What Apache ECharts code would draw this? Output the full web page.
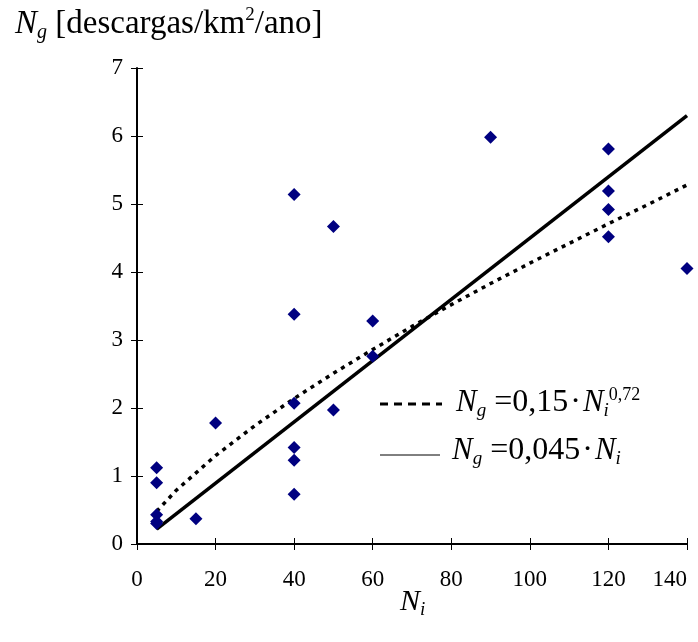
<!DOCTYPE html>
<html>
<head>
<meta charset="utf-8">
<script src="https://cdn.jsdelivr.net/npm/echarts@6/dist/echarts.min.js"></script>
<style>
  html, body { margin: 0; padding: 0; background: #fff; }
  #chart { width: 698px; height: 642px; }
</style>
</head>
<body>
<div id="chart"></div>
<script>
// observed points (Ni, Ng)
const obsNi = [5, 5, 5, 5, 5, 15, 20, 40, 40, 40, 40, 40, 40, 50, 50, 60, 60, 90, 120, 120, 120, 120, 140];
const obsNg = [1.12, 0.9, 0.43, 0.33, 0.3, 0.37, 1.78, 5.14, 3.38, 2.07, 1.42, 1.23, 0.73, 4.67, 1.97, 3.28, 2.76, 5.98, 5.81, 5.19, 4.92, 4.52, 4.05];

// power trend line
const powNi = [5, 10, 20, 30, 40, 50, 60, 70, 80, 90, 100, 110, 120, 130, 140];
const powNg = [0.48, 0.79, 1.3, 1.74, 2.14, 2.51, 2.86, 3.2, 3.52, 3.83, 4.13, 4.42, 4.71, 4.99, 5.28];

// linear trend line, end points
const linNi = [5, 140];
const linNg = [0.22, 6.3];

const xTicks = [0, 20, 40, 60, 80, 100, 120, 140];
const yTicks = [0, 1, 2, 3, 4, 5, 6, 7];

const serif = "'Liberation Serif', 'DejaVu Serif', serif";

const zip = (a, b) => a.map((v, i) => [v, b[i]]);

const chart = echarts.init(document.getElementById("chart"));

const baseAxis = {
  type: "value",
  splitLine: {show: false},
  axisLine: {lineStyle: {color: "#000", width: 2}},
  axisLabel: {color: "#000", fontFamily: serif, fontSize: 23},
};

const mainText = {fontFamily: serif, fontSize: 32, color: "#000", lineHeight: 34};
const dot = {fontFamily: serif, fontSize: 32, color: "#000", lineHeight: 34, padding: [0, 2, 0, 2]};
const italic = {fontFamily: serif, fontSize: 31, fontStyle: "italic", color: "#000", lineHeight: 34};
const sub = {fontFamily: serif, fontSize: 19, fontStyle: "italic", color: "#000", lineHeight: 14, verticalAlign: "bottom", padding: [0, 8, 0, 0]};
const subEnd = {...sub, padding: 0};
const sup = {fontFamily: serif, fontSize: 18, color: "#000", lineHeight: 12, verticalAlign: "top"};

const option = {
  animation: false,
  grid: {left: 137, right: 11, top: 68, bottom: 98, containLabel: false, outerBoundsMode: "none"},
  xAxis: [
    {
      ...baseAxis,
      min: xTicks[0], max: xTicks[xTicks.length - 1], interval: 20,
      axisTick: {show: true, inside: false, length: 6, lineStyle: {color: "#000", width: 1}},
      axisLabel: {...baseAxis.axisLabel, margin: 24, alignMaxLabel: "right"},
    },
    {
      type: "value", position: "bottom",
      min: xTicks[0], max: xTicks[xTicks.length - 1], interval: 20,
      axisLine: {show: false}, splitLine: {show: false}, axisLabel: {show: false},
      axisTick: {show: true, inside: true, length: 6, lineStyle: {color: "#000", width: 1}},
    }
  ],
  yAxis: [
    {
      ...baseAxis,
      min: yTicks[0], max: yTicks[yTicks.length - 1], interval: 1,
      axisTick: {show: true, inside: false, length: 6, lineStyle: {color: "#000", width: 1}},
      axisLabel: {...baseAxis.axisLabel, margin: 14},
    },
    {
      type: "value", position: "left",
      min: yTicks[0], max: yTicks[yTicks.length - 1], interval: 1,
      axisLine: {show: false}, splitLine: {show: false}, axisLabel: {show: false},
      axisTick: {show: true, inside: true, length: 6, lineStyle: {color: "#000", width: 1}},
    }
  ],
  series: [
    {
      type: "line",
      data: zip(linNi, linNg),
      showSymbol: false,
      lineStyle: {color: "#000", width: 3.5, type: "solid"},
      z: 2
    },
    {
      type: "line",
      data: zip(powNi, powNg),
      showSymbol: false,
      lineStyle: {color: "#000", width: 3.5, type: [4, 5]},
      z: 2
    },
    {
      type: "scatter",
      data: zip(obsNi, obsNg),
      symbol: "diamond",
      symbolSize: 13,
      itemStyle: {color: "#000080", opacity: 1},
      z: 3
    }
  ],
  graphic: [
    {
      type: "text", left: 15, top: 6,
      style: {
        text: "{i|N}{s|g}{m| [descargas/km}{p|2}{m|/ano]}",
        rich: {
          i: {...italic, fontSize: 33, lineHeight: 37},
          s: {...subEnd, fontSize: 20, lineHeight: 16},
          m: {...mainText, fontSize: 33, lineHeight: 37},
          p: {...sup, fontSize: 19, lineHeight: 14}
        }
      }
    },
    {
      type: "text", left: 400, top: 587,
      style: {
        text: "{i|N}{s|i}",
        rich: {
          i: {...italic, fontSize: 30, lineHeight: 34},
          s: {...subEnd, fontSize: 19}
        }
      }
    },
    {
      type: "line",
      shape: {x1: 380, y1: 404, x2: 442, y2: 404},
      style: {stroke: "#000", lineWidth: 3, lineDash: [8, 6]}
    },
    {
      type: "text", left: 456, top: 386,
      style: {
        text: "{i|N}{s|g}{m|=0,15}{d|·}{i|N}{e|i}{p|0,72}",
        rich: {i: italic, s: sub, e: subEnd, m: mainText, d: dot, p: sup}
      }
    },
    {
      type: "line",
      shape: {x1: 380, y1: 455, x2: 440, y2: 455},
      style: {stroke: "#000", lineWidth: 1}
    },
    {
      type: "text", left: 452, top: 435,
      style: {
        text: "{i|N}{s|g}{m|=0,045}{d|·}{i|N}{e|i}",
        rich: {i: italic, s: sub, e: subEnd, m: mainText, d: dot}
      }
    }
  ]
};

chart.setOption(option);
</script>
</body>
</html>
